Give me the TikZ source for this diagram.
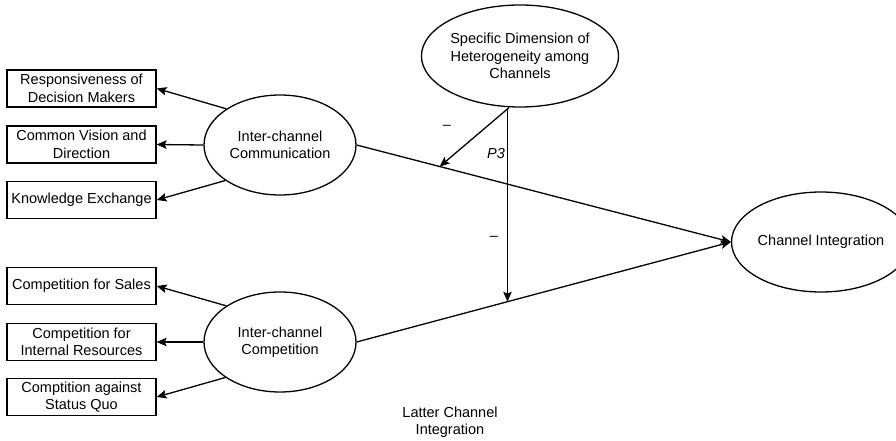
\documentclass[tikz,border=0pt]{standalone}
\usepackage{fontspec}
\setmainfont{Liberation Sans}
\usetikzlibrary{shapes.geometric,arrows.meta}
\begin{document}
\begin{tikzpicture}[x=1pt,y=-1pt,
  every node/.style={font=\fontsize{14.5}{17.5}\selectfont},
  itembox/.style={draw,line width=1.3pt,minimum width=149pt,minimum height=37pt,inner sep=2pt,align=center},
  construct/.style={draw,ellipse,line width=1.3pt,inner sep=0pt,align=center},
  conn/.style={line width=1.3pt,-{Stealth[length=10pt,width=8.5pt,inset=2pt]}}]
\useasboundingbox (0,0) rectangle (896,441);
% boxes
\node[itembox] (b1) at (81.5,88.5) {Responsiveness of\\Decision Makers};
\node[itembox] (b2) at (81.5,144.5) {Common Vision and\\Direction};
\node[itembox] (b3) at (81.5,200) {Knowledge Exchange};
\node[itembox] (b4) at (81.5,286) {Competition for Sales};
\node[itembox] (b5) at (81.5,342) {Competition for\\Internal Resources};
\node[itembox] (b6) at (81.5,397) {Comptition against\\Status Quo};
% ellipses
\node[construct,minimum width=152pt,minimum height=100pt] (comm) at (280,145) {Inter-channel\\Communication};
\node[construct,minimum width=152pt,minimum height=100pt] (comp) at (280,342) {Inter-channel\\Competition};
\node[construct,minimum width=163pt,minimum height=102pt] (het) at (520,56) {Specific Dimension of\\Heterogeneity among\\Channels};
\node[construct,minimum width=148pt,minimum height=100pt] (ci) at (821,242) {Channel Integration};
% indicator arrows
\draw[conn] (comm.146.6) -- (b1.east);
\draw[conn] (comm.west) -- (b2.east);
\draw[conn] (comm.213.4) -- (b3.east);
\draw[conn] (comp.146.6) -- (b4.east);
\draw[conn] (comp.west) -- (b5.east);
\draw[conn] (comp.213.4) -- (b6.east);
% main paths
\draw[conn] (comm.east) -- (ci.west) coordinate[pos=0.222] (m1);
\draw[conn] (comp.east) -- (ci.west) coordinate[pos=0.403] (m2);
% moderation
\draw[conn] (m2 |- het.south) -- (m2);
\draw[conn] ([xshift=-11pt]het.south) -- (m1);
% labels
\node (minus1) at (447,127) {--};
\node[font=\fontsize{14.5}{17.5}\selectfont\itshape] (p3) at (496,154) {P3};
\node (minus2) at (494,238) {--};
\node[align=center] (latter) at (450,422) {Latter Channel\\Integration};
\end{tikzpicture}
\end{document}
